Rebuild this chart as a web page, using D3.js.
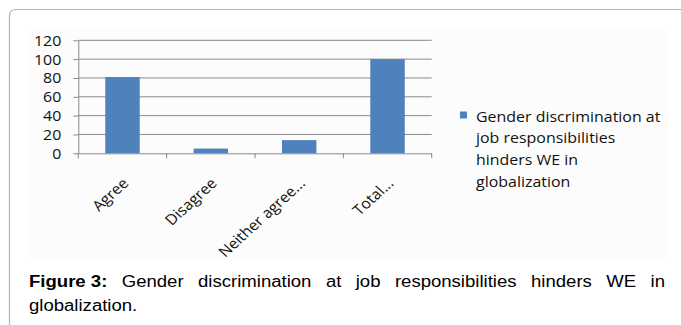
<!DOCTYPE html>
<html><head><meta charset="utf-8">
<script src="https://cdn.jsdelivr.net/npm/d3@7/dist/d3.min.js"></script>
<style>html,body{margin:0;padding:0;background:#fff;}svg{display:block;}</style>
</head><body>
<svg id="chart" width="681" height="325"></svg>
<script>
const categories = ["Agree", "Disagree", "Neither agree...", "Total..."];
const values = [81, 5, 14, 100];
const yTicks = [0, 20, 40, 60, 80, 100, 120];
const legendLines = ["Gender discrimination at", "job responsibilities", "hinders WE in", "globalization"];
const captionBold = "Figure 3:";
const captionLine1 = "Gender discrimination at job responsibilities hinders WE in";
const captionLine2 = "globalization.";

const W = 681, H = 325;
const SX = 1.1;       // horizontal stretch for chart labels
const SXC = 1.16;     // horizontal stretch for caption
const svg = d3.select("#chart");
const labelFont = "'Open Sans', Lato, sans-serif";

// frame
svg.append("path")
  .attr("d", "M9.5,325 V16 Q9.5,9.5 16,9.5 H681")
  .attr("fill", "none").attr("stroke", "#b4b4b4").attr("stroke-width", 1.2);
svg.append("rect").attr("x", 28).attr("y", 28).attr("width", 639).attr("height", 230)
  .attr("fill", "#fcfcfc");

const plot = {left: 78.3, right: 431.7, top: 40.3, bottom: 153.3};
const x = d3.scaleBand().domain(categories).range([plot.left, plot.right])
  .paddingInner(0.61).paddingOuter(0.305);
const y = d3.scaleLinear().domain([0, 120]).range([plot.bottom, plot.top]);

// gridlines
svg.append("g").selectAll("line").data(yTicks.filter(d => d > 0)).join("line")
  .attr("x1", plot.left).attr("x2", plot.right)
  .attr("y1", d => y(d)).attr("y2", d => y(d))
  .attr("stroke", "#8a8a8a").attr("stroke-width", 1);

// bars
svg.append("g").selectAll("rect").data(values).join("rect")
  .attr("x", (d, i) => x(categories[i]))
  .attr("width", x.bandwidth())
  .attr("y", d => y(d))
  .attr("height", d => y(0) - y(d))
  .attr("fill", "#4f81bd");

// y axis
const yAxis = svg.append("g").attr("transform", `translate(${plot.left},0)`)
  .call(d3.axisLeft(y).tickValues(yTicks).tickSize(5).tickSizeOuter(0));
yAxis.select(".domain").attr("stroke", "#8a8a8a");
yAxis.selectAll(".tick line").attr("stroke", "#8a8a8a");
yAxis.selectAll(".tick text")
  .attr("x", 0).attr("dy", 0)
  .attr("transform", `translate(-17,5) scale(${SX},1)`)
  .attr("text-anchor", "end")
  .attr("font-family", labelFont).attr("font-size", 14.5).attr("fill", "#111");

// x axis
const xAxis = svg.append("g").attr("transform", `translate(0,${plot.bottom})`)
  .call(d3.axisBottom(x).tickSize(0).tickSizeOuter(0));
xAxis.select(".domain").attr("stroke", "#8a8a8a");
xAxis.selectAll(".tick text")
  .attr("x", 0).attr("y", 0).attr("dy", 0)
  .attr("text-anchor", "end")
  .attr("transform", `translate(7,31) scale(${SX},1) rotate(-45)`)
  .attr("font-family", labelFont).attr("font-size", 14.5).attr("fill", "#111");
// category boundary ticks
svg.append("g").selectAll("line").data(d3.range(categories.length + 1)).join("line")
  .attr("x1", i => plot.left + i * x.step()).attr("x2", i => plot.left + i * x.step())
  .attr("y1", plot.bottom).attr("y2", plot.bottom + 5)
  .attr("stroke", "#8a8a8a");

// legend
const lg = svg.append("g");
lg.append("rect").attr("x", 460).attr("y", 111.5).attr("width", 7).attr("height", 7).attr("fill", "#4f81bd");
lg.selectAll("text").data(legendLines).join("text")
  .attr("transform", (d, i) => `translate(476,${121.5 + i * 21.8}) scale(${SX},1)`)
  .attr("font-family", labelFont).attr("font-size", 14.5).attr("fill", "#111")
  .text(d => d);

// caption (justified first line)
const capFont = "'Liberation Sans', Arial, sans-serif";
const capSize = 16;
const capLeft = 29, capRight = 665;
const cap = svg.append("g");
const words = [{t: captionBold, bold: true}].concat(captionLine1.split(" ").map(t => ({t, bold: false})));
const tmp = cap.selectAll("text.w").data(words).join("text")
  .attr("class", "w")
  .attr("font-family", capFont).attr("font-size", capSize)
  .attr("font-weight", d => d.bold ? "bold" : "normal")
  .attr("fill", "#000")
  .text(d => d.t);
const widths = [];
tmp.each(function() { widths.push(this.getComputedTextLength() * SXC); });
const totalW = d3.sum(widths);
const gap = (capRight - capLeft - totalW) / (words.length - 1);
let cx = capLeft;
tmp.attr("transform", (d, i) => {
  const px = cx; cx += widths[i] + gap;
  return `translate(${px},286.5) scale(${SXC},1)`;
});
cap.append("text")
  .attr("transform", `translate(${capLeft},311) scale(${SXC},1)`)
  .attr("font-family", capFont).attr("font-size", capSize).attr("fill", "#000")
  .text(captionLine2);
</script>
</body></html>
